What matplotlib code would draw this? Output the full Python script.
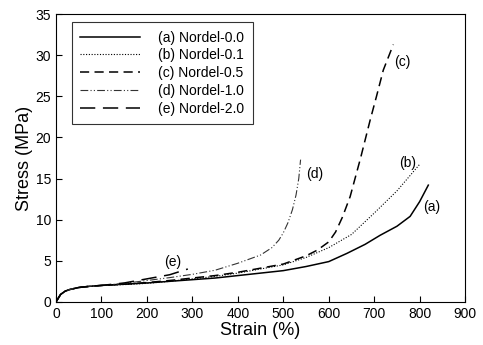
import matplotlib.pyplot as plt

plt.rcParams['font.family'] = ['Liberation Sans', 'DejaVu Sans']

# (a) Nordel-0.0
strain_a = [0, 10, 20, 30, 50, 75, 100, 150, 200, 250, 300, 350, 400, 450, 500, 550, 600, 640, 680, 713, 750, 779, 800, 819]
stress_a = [0, 0.9, 1.3, 1.5, 1.75, 1.9, 2.0, 2.15, 2.3, 2.5, 2.7, 2.9, 3.2, 3.5, 3.8, 4.3, 4.9, 5.9, 7.0, 8.1, 9.2, 10.4, 12.2, 14.2]
# (b) Nordel-0.1
strain_b = [0, 10, 20, 30, 50, 75, 100, 150, 200, 250, 300, 350, 400, 450, 500, 550, 600, 650, 700, 750, 801]
stress_b = [0, 0.9, 1.3, 1.5, 1.75, 1.9, 2.0, 2.1, 2.25, 2.5, 2.8, 3.1, 3.5, 4.0, 4.5, 5.4, 6.6, 8.2, 10.8, 13.5, 16.8]
# (c) Nordel-0.5
strain_c = [0, 10, 20, 30, 50, 75, 100, 150, 200, 250, 300, 350, 400, 450, 500, 550, 575, 600, 615, 630, 647, 670, 691, 705, 720, 742]
stress_c = [0, 0.9, 1.3, 1.5, 1.75, 1.9, 2.0, 2.15, 2.35, 2.6, 2.9, 3.2, 3.6, 4.1, 4.6, 5.6, 6.3, 7.3, 8.5, 10.3, 12.8, 17.5, 22.1, 25.0, 28.2, 31.3]
# (d) Nordel-1.0
strain_d = [0, 10, 20, 30, 50, 75, 100, 150, 200, 250, 300, 350, 400, 450, 475, 490, 500, 510, 520, 528, 534, 538]
stress_d = [0, 0.9, 1.3, 1.5, 1.75, 1.9, 2.0, 2.25, 2.6, 2.95, 3.35, 3.85, 4.7, 5.7, 6.6, 7.5, 8.4, 9.6, 11.2, 13.0, 15.0, 17.3]
# (e) Nordel-2.0
strain_e = [0, 10, 20, 30, 50, 75, 100, 150, 200, 250, 290]
stress_e = [0, 0.9, 1.3, 1.5, 1.75, 1.9, 2.0, 2.3, 2.8, 3.3, 4.0]

labels = ['(a) Nordel-0.0', '(b) Nordel-0.1', '(c) Nordel-0.5', '(d) Nordel-1.0', '(e) Nordel-2.0']
tags = ['(a)', '(b)', '(c)', '(d)', '(e)']
tag_pos = [(826, 11.5), (773, 16.9), (761, 29.2), (568, 15.6), (256, 4.9)]

fig = plt.figure(figsize=(4.83, 3.45), dpi=100)
ax = fig.add_axes([0.116, 0.125, 0.847, 0.834])

ax.plot(strain_a, stress_a, color='black', lw=1.1, ls='-', label=labels[0])
ax.plot(strain_b, stress_b, color='black', lw=0.8, ls=(0, (1, 1.5)), label=labels[1])
ax.plot(strain_c, stress_c, color='black', lw=1.1, ls=(0, (6, 3.5)), label=labels[2])
ax.plot(strain_d, stress_d, color='#333333', lw=0.8, ls=(0, (7, 2, 1, 2, 1, 2)), label=labels[3])
ax.plot(strain_e, stress_e, color='black', lw=1.1, ls=(0, (10, 5)), label=labels[4])

for t, (x, y) in zip(tags, tag_pos):
    ax.text(x, y, t, fontsize=10, ha='center', va='center')

ax.set_xlim(0, 900)
ax.set_ylim(0, 35)
ax.set_xticks(range(0, 901, 100))
ax.set_yticks(range(0, 36, 5))
ax.tick_params(direction='in', labelsize=10, length=4, width=0.8)
ax.set_xlabel('Strain (%)', fontsize=13, labelpad=1)
ax.set_ylabel('Stress (MPa)', fontsize=13, labelpad=2)

leg = ax.legend(loc='upper left', bbox_to_anchor=(0.039, 0.972), borderaxespad=0,
                fontsize=10, handlelength=4.3, handletextpad=1.3, labelspacing=0.27,
                fancybox=False, edgecolor='black', borderpad=0.6)
leg.get_frame().set_linewidth(0.8)

fig.savefig('out.png', dpi=100)
